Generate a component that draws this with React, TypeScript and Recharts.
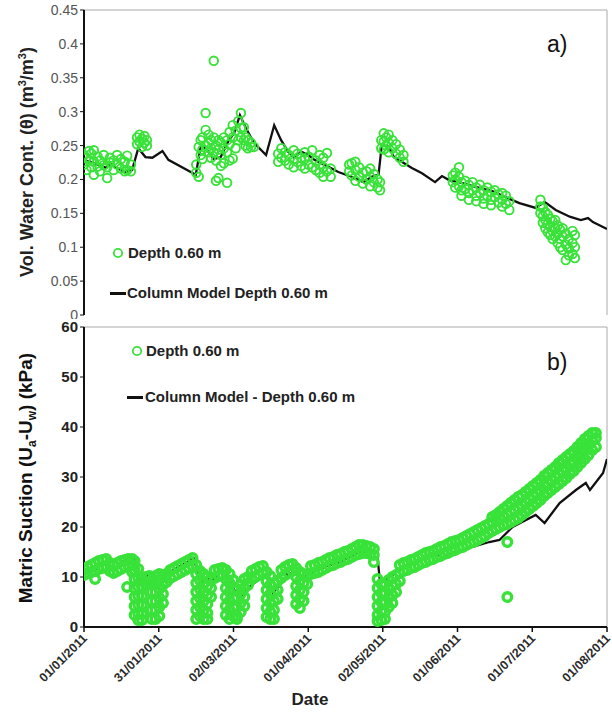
import { ComposedChart, Scatter, Line, XAxis, YAxis, ReferenceLine } from 'recharts';

// x values are days since 01/01/2011
const dateTicks = [0, 30.3, 60.6, 90.9, 121.1, 151.4, 181.7, 212];
const dateLabels = ['01/01/2011', '31/01/2011', '02/03/2011', '01/04/2011', '02/05/2011', '01/06/2011', '01/07/2011', '01/08/2011'];

const thetaTicks = [0, 0.05, 0.1, 0.15, 0.2, 0.25, 0.3, 0.35, 0.4, 0.45];
const suctionTicks = [0, 10, 20, 30, 40, 50, 60];

// measured volumetric water content, each row: [day, readings...]
const thetaObs: number[][] = [
  [0, 0.222, 0.236], [1, 0.214, 0.232], [2, 0.228, 0.242], [3, 0.218, 0.238], [4, 0.207, 0.226, 0.243],
  [5.5, 0.219, 0.234], [6.5, 0.212, 0.228], [8, 0.221, 0.236], [9.4, 0.202, 0.218], [10.5, 0.225, 0.232],
  [12, 0.214, 0.228], [13.4, 0.236, 0.222], [15, 0.216, 0.23], [16.5, 0.212, 0.226], [17.5, 0.214, 0.235], [19, 0.212, 0.222],
  [21.5, 0.252, 0.262], [22.5, 0.256, 0.266], [23.5, 0.248, 0.26], [24.5, 0.254, 0.264], [25.5, 0.25, 0.258],
  [45.5, 0.21, 0.222], [46.5, 0.204, 0.248], [47.3, 0.258, 0.236], [48, 0.262, 0.244, 0.23], [49.3, 0.298, 0.273, 0.25],
  [50.5, 0.266, 0.254, 0.24], [51.5, 0.258, 0.246, 0.232], [52.6, 0.375, 0.262, 0.24], [53.5, 0.25, 0.228, 0.198],
  [54.5, 0.244, 0.202, 0.258], [55.5, 0.236, 0.254, 0.22], [56.7, 0.224, 0.246, 0.262], [58, 0.24, 0.258, 0.195],
  [59, 0.228, 0.252, 0.27], [60.3, 0.231, 0.262, 0.28], [61.5, 0.246, 0.272], [62.5, 0.258, 0.286],
  [63.6, 0.298, 0.276, 0.262], [64.8, 0.277, 0.258], [65.5, 0.262, 0.25], [66.4, 0.258, 0.246], [67.7, 0.248, 0.254], [68.9, 0.248],
  [78.7, 0.226, 0.238], [80, 0.232, 0.246], [81.5, 0.228, 0.24], [83, 0.222, 0.236], [85, 0.243, 0.23, 0.218],
  [86.5, 0.226, 0.238], [88, 0.22, 0.232], [89.5, 0.216, 0.23, 0.24], [91, 0.222, 0.234], [92.5, 0.218, 0.243],
  [94, 0.214, 0.228], [95.5, 0.21, 0.222, 0.236], [97, 0.204, 0.218, 0.232], [98.5, 0.212, 0.239], [100, 0.204, 0.216],
  [107.5, 0.212, 0.222], [108.5, 0.224, 0.206], [110, 0.198, 0.214, 0.226], [111.5, 0.204, 0.218], [113, 0.194, 0.21],
  [114.5, 0.2, 0.212], [116, 0.19, 0.204, 0.216], [117.5, 0.196, 0.208], [119, 0.188, 0.2], [120, 0.184, 0.196],
  [120.5, 0.246, 0.258], [121.5, 0.268, 0.256, 0.244], [122.5, 0.262, 0.25], [123.5, 0.266, 0.254, 0.24],
  [125, 0.258, 0.246], [126.5, 0.252, 0.238], [128, 0.244, 0.232], [129.5, 0.236, 0.226],
  [149.5, 0.196, 0.206], [150.5, 0.188, 0.2, 0.21], [152, 0.218, 0.204, 0.19], [153, 0.196, 0.184, 0.176],
  [154.5, 0.198, 0.186], [156, 0.192, 0.18, 0.17], [157.5, 0.196, 0.184], [159, 0.188, 0.176, 0.168],
  [160.5, 0.192, 0.18], [162, 0.184, 0.172, 0.164], [163.5, 0.188, 0.176], [165, 0.182, 0.17, 0.162],
  [166.5, 0.184, 0.174], [168, 0.178, 0.166], [169.5, 0.18, 0.17, 0.16], [171, 0.176, 0.164], [172.4, 0.168, 0.155],
  [185, 0.17, 0.16, 0.15], [186, 0.158, 0.146, 0.136], [187, 0.152, 0.14, 0.128], [188, 0.148, 0.134, 0.122],
  [189, 0.142, 0.13, 0.118], [190, 0.138, 0.124, 0.112], [191, 0.14, 0.128, 0.116], [192, 0.132, 0.12, 0.106],
  [193, 0.126, 0.112, 0.1], [194, 0.128, 0.116, 0.096], [195.3, 0.12, 0.104, 0.081], [196.5, 0.112, 0.098, 0.088],
  [198, 0.124, 0.106, 0.09], [199, 0.118, 0.1, 0.084],
];

// column model water content: [day, theta]
const thetaModel: number[][] = [
  [0, 0.229], [9, 0.217], [10.6, 0.224], [12.6, 0.218], [16.7, 0.211], [19.5, 0.214], [22, 0.246], [24.9, 0.233],
  [27.7, 0.232], [31.8, 0.242], [34.2, 0.229], [45.3, 0.207], [47.3, 0.248], [48, 0.25], [50.6, 0.24], [52.6, 0.23],
  [55.4, 0.233], [58.7, 0.258], [60.8, 0.268], [63.2, 0.295], [65.6, 0.276], [68.9, 0.254], [73.8, 0.236], [77.1, 0.28],
  [79.9, 0.258], [82.7, 0.241], [85.2, 0.232], [88, 0.241], [90.9, 0.236], [93.4, 0.229], [96.2, 0.224], [98.3, 0.22],
  [103.1, 0.211], [108.4, 0.204], [113.3, 0.196], [116.6, 0.204], [119.4, 0.207], [120.7, 0.251], [123.5, 0.248],
  [125.6, 0.233], [128.8, 0.226], [132.9, 0.217], [137, 0.209], [142.3, 0.196], [145.1, 0.205], [148, 0.199],
  [152, 0.196], [158.6, 0.189], [165.5, 0.183], [170.8, 0.174], [176.5, 0.165], [183.1, 0.158], [186.7, 0.167],
  [191.2, 0.155], [196.9, 0.145], [201.4, 0.14], [204.3, 0.143], [206.3, 0.137], [212, 0.127],
];

// measured matric suction (kPa), each row: [day, readings...]
const suctionObs: number[][] = [
  [0, 10.4, 11.6], [1.5, 10.8, 12], [3, 11, 12.4], [4.5, 11.2, 12.8, 9.6], [6, 11.6, 13.2], [7.5, 11.8, 13.4],
  [9, 12, 13.6], [10.5, 11.2, 12.8], [12, 10.8, 12.4], [13.5, 11.2, 12.8], [15, 11.6, 13.2], [16.5, 12, 13.4],
  [17.5, 8], [18, 12.2, 13.6], [19.5, 12.4, 13.6, 11],
  [20.5, 13.2, 11.4, 9.6, 7.8, 6, 4.2, 2.4], [22, 11.6, 9.8, 8, 6.2, 4.4, 2.6, 1.4], [23.5, 9.8, 8, 6.2, 4.4, 2.6, 1.4],
  [25, 8.6, 10], [26.5, 8.8, 10.2],
  [27.5, 1.6, 3.4, 5.2, 7, 8.8], [29, 1.6, 3.4, 5.2, 7, 8.8, 10.2], [30.5, 2.2, 4, 5.8, 7.6, 9.4, 10.6],
  [32, 4.8, 6.6, 8.4, 10.2], [33.5, 9, 10.6],
  [35, 9.8, 11.4], [36.5, 10.2, 11.8], [38, 10.6, 12.2], [39.5, 11, 12.6], [41, 11.4, 13], [42.5, 11.8, 13.4], [44, 12.2, 13.8],
  [45.5, 12.4, 10.6, 8.8, 7, 5.2, 3.4, 1.6], [47, 11.2, 9.4, 7.6, 5.8, 4, 2.2], [48.5, 10.6, 8.8, 7, 5.2, 3.4, 1.6],
  [50, 10, 8.2, 6.4, 4.6, 2.8, 1.6], [51.5, 9.6, 7.8, 6],
  [53, 9.8, 11.4], [54.5, 10.2, 11.6], [56, 10.4, 11.8],
  [57.5, 11.4, 9.6, 7.8, 6, 4.2, 2.4], [59, 10.6, 8.8, 7, 5.2, 3.4, 1.6], [60.5, 9.4, 7.6, 5.8, 4, 2.2],
  [62, 7.6, 5.8, 4, 2.2, 1.6], [63.5, 8.4, 6.6, 4.8, 3], [65, 9.6, 7.8, 6, 4.2], [66.5, 10, 8.4],
  [68, 9.6, 11.2], [69.5, 10, 11.6], [71, 10.4, 12], [72.5, 10.8, 12.2],
  [74, 11, 9.2, 7.4, 5.6, 3.8, 2], [75.5, 10.2, 8.4, 6.6, 4.8, 3, 1.6], [77, 8.8, 7, 5.2, 3.4, 1.6], [78.5, 9.2, 7.4, 5.6],
  [80, 9.8, 11.4], [81.5, 10.4, 12], [83, 10.8, 12.4], [84.5, 11.2, 12.6],
  [86, 11.8, 10, 8.2, 6.4, 4.6], [87.5, 11, 9.2, 7.4, 5.6, 3.8], [89, 10.6, 8.8, 7, 5.2], [90.5, 10.4, 8.6],
  [92, 10.6, 12.2], [93.5, 10.8, 12.4], [95, 11, 12.8], [96.5, 11.4, 13], [98, 11.8, 13.4], [99.5, 12.2, 13.8],
  [101, 12.4, 14], [102.5, 12.8, 14.4], [104, 13, 14.6], [105.5, 13.4, 15], [107, 13.6, 15.2], [108.5, 14, 15.6],
  [110, 14.4, 16], [111.5, 14.6, 16.4], [113, 14.8, 16.4], [114.5, 14.8, 16.2], [116, 14.6, 16], [117.5, 14.4, 15.6, 13],
  [119, 9.6, 7.8, 6, 4.2, 2.4, 1.2], [120.5, 8.6, 6.8, 5, 3.2, 1.4], [122, 8.4, 6.6, 4.8, 3, 1.6], [123.5, 9.4, 7.6, 5.8, 4],
  [125, 10, 8.2, 6.4, 4.8], [126.5, 10.4, 8.6, 7],
  [128, 10.8, 12.4, 9.2], [129.5, 11.2, 12.8], [131, 11.4, 13], [132.5, 11.8, 13.4], [134, 12, 13.6], [135.5, 12.4, 14],
  [137, 12.8, 14.4], [138.5, 13, 14.8], [140, 13.4, 15], [141.5, 13.6, 15.2], [143, 14, 15.6], [144.5, 14.2, 16],
  [146, 14.6, 16.2], [147.5, 14.8, 16.6], [149, 15.2, 17], [150.5, 15.4, 17.2], [152, 15.8, 17.4], [153.5, 16, 17.8],
  [155, 16.4, 18.2], [156.5, 16.8, 18.6], [158, 17, 19], [159.5, 17.4, 19.4], [161, 17.8, 19.8], [162.5, 18.2, 20.2],
  [164, 18.8, 20.6], [165.5, 19.2, 21, 22], [167, 19.6, 21.4, 22.4], [168.5, 20, 21.8, 23], [170, 20.4, 22.2, 23.6],
  [171.5, 20.6, 22.6, 24.2], [171.6, 17, 6], [173, 21, 23, 24.8], [174.5, 21.4, 23.4, 25.4], [176, 21.8, 23.8, 26],
  [177.5, 22.4, 24.4, 26.4], [179, 23, 25, 27], [180.5, 23.6, 25.6, 27.6], [182, 24.2, 26.2, 28.2],
  [183.5, 24.8, 26.8, 28.8], [185, 25.4, 27.4, 29.4], [186.5, 26.2, 28.2, 30.2], [188, 26.8, 28.8, 30.8],
  [189.5, 27.4, 29.4, 31.4], [191, 28, 30, 32], [192.5, 28.6, 30.6, 32.8], [194, 29.2, 31.2, 33.4],
  [195.5, 29.8, 31.8, 34], [197, 30.6, 32.6, 34.6], [198.5, 31.2, 33.2, 35.2], [200, 32, 34, 36],
  [201.5, 32.8, 34.8, 36.8], [203, 33.6, 35.6, 37.6], [204.5, 34.4, 36.4, 38.2], [206, 35.4, 37.2, 38.8],
  [207.5, 36, 37.8, 38.8],
];

// column model suction: [day, kPa]
const suctionModel: number[][] = [
  [0, 10.6], [5, 11.6], [8, 13], [11.4, 11.4], [16, 13.2], [20, 13.8], [22, 9], [27, 10.8], [31, 9.6], [36.3, 11.4],
  [44.4, 13.8], [47.3, 9], [50, 9.6], [52.6, 9.6], [55.4, 11.2], [58.3, 10], [62.8, 5.6], [66.5, 7.8], [73, 10.4],
  [74.6, 10], [76.6, 6.8], [80, 8.8], [82.7, 10.8], [86.8, 10.4], [88.9, 9.8], [92, 10.8], [97.4, 12], [104, 13],
  [112.5, 15.2], [116.6, 14], [119, 13.8], [120, 9], [122, 9.2], [127.6, 11.4], [134, 13], [142.3, 15], [145.1, 13.8],
  [149.2, 14.8], [156, 15.8], [164.3, 17], [168.4, 17.4], [173.7, 20], [183.1, 22.4], [186.7, 20.8], [192.8, 24.8],
  [199.4, 27.4], [203.4, 28.8], [205.1, 27.4], [210.4, 30.8], [212, 33.6],
];

const toPoints = (rows: number[][]) => rows.flatMap(([day, ...vals]) => vals.map(v => ({ day, v })));
const toLine = (rows: number[][]) => rows.map(([day, v]) => ({ day, v }));

const FONT = '"Liberation Sans", Arial, sans-serif';
const GREEN = '#39e239';

function Ring(props: any) {
  const { cx, cy } = props;
  if (cx == null || cy == null) return null;
  return <circle cx={cx} cy={cy} r={4.3} fill="none" stroke={GREEN} strokeWidth={1.9} />;
}

// heavier ring for the dense hourly suction record
function ThickRing(props: any) {
  const { cx, cy } = props;
  if (cx == null || cy == null) return null;
  return <circle cx={cx} cy={cy} r={4.3} fill="none" stroke={GREEN} strokeWidth={3.4} />;
}

function DateTick({ x, y, payload }: any) {
  const label = dateLabels[dateTicks.indexOf(payload.value)];
  const ax = x + 4;
  const ay = y + 5;
  return (
    <text x={ax} y={ay} textAnchor="end" transform={`rotate(-45, ${ax}, ${ay})`}
      fontSize={12.5} fontWeight="bold" fill="#2a2a2a" fontFamily={FONT}>{label}</text>
  );
}

const legendText: React.CSSProperties = {
  position: 'absolute', fontFamily: FONT, fontWeight: 'bold', fontSize: 15, color: '#222', whiteSpace: 'nowrap',
  lineHeight: '18px',
};

function LegendRing({ x, y }: { x: number; y: number }) {
  return (
    <svg style={{ position: 'absolute', left: x - 6, top: y - 6 }} width={12} height={12}>
      <circle cx={6} cy={6} r={4.2} fill="none" stroke={GREEN} strokeWidth={1.8} />
    </svg>
  );
}

function LegendLine({ x1, x2, y }: { x1: number; x2: number; y: number }) {
  return <div style={{ position: 'absolute', left: x1, top: y - 1, width: x2 - x1, height: 2.5, background: '#111' }} />;
}

export default function App() {
  const axisLine = { stroke: '#111', strokeWidth: 2 };
  return (
    <div style={{ position: 'absolute', left: 0, top: 0, width: 612, height: 714, background: '#fff', fontFamily: FONT }}>
      {/* a) water content */}
      <div style={{ position: 'absolute', left: 0, top: 0 }}>
        <ComposedChart width={612} height={319} margin={{ top: 10, right: 5, bottom: 4, left: 0 }}>
          <XAxis type="number" dataKey="day" domain={[0, 212]} ticks={dateTicks} tick={false} tickLine={false}
            axisLine={axisLine} height={0} allowDataOverflow />
          <YAxis type="number" dataKey="v" domain={[0, 0.45]} ticks={thetaTicks} width={84} interval={0}
            axisLine={axisLine} tickLine={{ stroke: '#111' }} tickSize={4} tickMargin={2}
            tick={{ fill: '#555', fontSize: 14, fontFamily: FONT }} allowDataOverflow />
          <ReferenceLine y={0.45} stroke="#aaa" strokeWidth={1} />
          <ReferenceLine x={212} stroke="#aaa" strokeWidth={1} />
          <Scatter data={toPoints(thetaObs)} dataKey="v" shape={<Ring />} isAnimationActive={false} />
          <Line data={toLine(thetaModel)} dataKey="v" type="linear" stroke="#111" strokeWidth={2.3} dot={false}
            isAnimationActive={false} />
        </ComposedChart>
      </div>

      {/* b) matric suction */}
      <div style={{ position: 'absolute', left: 0, top: 319, background: '#fff' }}>
        <ComposedChart width={612} height={395} margin={{ top: 8, right: 5, bottom: 0, left: 0 }}>
          <XAxis type="number" dataKey="day" domain={[0, 212]} ticks={dateTicks} interval={0} height={87}
            axisLine={axisLine} tickLine={{ stroke: '#111', strokeWidth: 1.5 }} tickSize={5} tick={<DateTick />}
            allowDataOverflow />
          <YAxis type="number" dataKey="v" domain={[0, 60]} ticks={suctionTicks} width={84} interval={0}
            axisLine={axisLine} tickLine={{ stroke: '#111' }} tickSize={4} tickMargin={2}
            tick={{ fill: '#222', fontSize: 15, fontWeight: 'bold', fontFamily: FONT }} allowDataOverflow />
          <ReferenceLine y={60} stroke="#aaa" strokeWidth={1} />
          <ReferenceLine x={212} stroke="#aaa" strokeWidth={1} />
          <Scatter data={toPoints(suctionObs)} dataKey="v" shape={<ThickRing />} isAnimationActive={false} />
          <Line data={toLine(suctionModel)} dataKey="v" type="linear" stroke="#111" strokeWidth={2.3} dot={false}
            isAnimationActive={false} />
        </ComposedChart>
      </div>

      {/* axis titles */}
      <div style={{
        position: 'absolute', left: 27, top: 162, transform: 'translate(-50%, -50%) rotate(-90deg)',
        whiteSpace: 'nowrap', fontWeight: 'bold', fontSize: 18, color: '#222',
      }}>
        Vol. Water Cont. (θ) (m<sup style={{ fontSize: 11 }}>3</sup>/m<sup style={{ fontSize: 11 }}>3</sup>)
      </div>
      <div style={{
        position: 'absolute', left: 27, top: 478, transform: 'translate(-50%, -50%) rotate(-90deg)',
        whiteSpace: 'nowrap', fontWeight: 'bold', fontSize: 19, color: '#111',
      }}>
        Matric Suction (U<sub style={{ fontSize: 12 }}>a</sub>-U<sub style={{ fontSize: 12 }}>w</sub>) (kPa)
      </div>
      <div style={{ position: 'absolute', left: 310, top: 690, transform: 'translateX(-50%)', fontWeight: 'bold', fontSize: 17, color: '#222' }}>
        Date
      </div>

      {/* panel letters */}
      <div style={{ position: 'absolute', left: 547, top: 31, fontSize: 23, color: '#111' }}>a)</div>
      <div style={{ position: 'absolute', left: 547, top: 349, fontSize: 23, color: '#111' }}>b)</div>

      {/* legends */}
      <LegendRing x={118} y={253} />
      <div style={{ ...legendText, left: 128, top: 244 }}>Depth 0.60 m</div>
      <LegendLine x1={110} x2={126} y={293} />
      <div style={{ ...legendText, left: 127, top: 284 }}>Column Model Depth 0.60 m</div>

      <LegendRing x={137} y={351} />
      <div style={{ ...legendText, left: 146, top: 342 }}>Depth 0.60 m</div>
      <LegendLine x1={127} x2={143} y={397} />
      <div style={{ ...legendText, left: 145, top: 388 }}>Column Model - Depth 0.60 m</div>
    </div>
  );
}
